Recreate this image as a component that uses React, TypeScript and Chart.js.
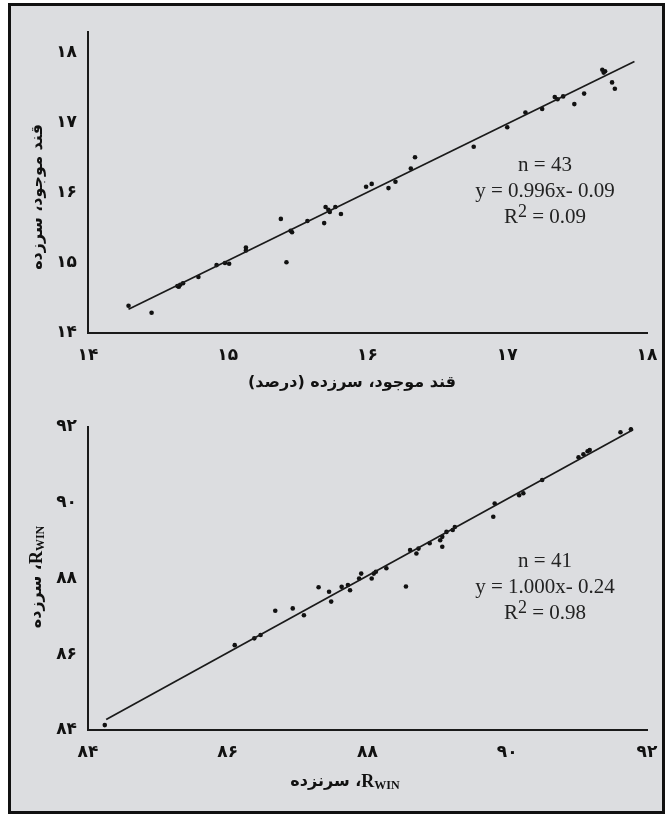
import React, { useEffect, useRef } from 'react';
import { Chart, registerables } from 'chart.js';

Chart.register(...registerables);

// ---------- Top chart data (sugar content) ----------
const topX = [14.29, 14.455, 14.64, 14.66, 14.68, 14.65, 14.79, 14.92, 14.98, 15.01, 15.13, 15.13, 15.38, 15.42, 15.45, 15.46,
  15.57, 15.70, 15.72, 15.73, 15.77, 15.69, 15.81, 15.99, 16.03, 16.15, 16.2, 16.31, 16.34, 16.76, 17.0, 17.13, 17.25,
  17.34, 17.36, 17.40, 17.48, 17.55, 17.68, 17.70, 17.69, 17.75, 17.77];
const topY = [14.39, 14.29, 14.67, 14.69, 14.71, 14.66, 14.80, 14.97, 15.00, 14.99, 15.22, 15.18, 15.63, 15.01, 15.46, 15.44,
  15.60, 15.80, 15.76, 15.73, 15.80, 15.57, 15.70, 16.09, 16.13, 16.07, 16.16, 16.35, 16.51, 16.66, 16.94, 17.15, 17.20,
  17.37, 17.34, 17.38, 17.27, 17.42, 17.76, 17.74, 17.72, 17.58, 17.49];
const topFitX = [14.29, 17.91];
const topFitY = [14.34, 17.88];
const topTickValues = [14, 15, 16, 17, 18];
const topTickLabels = ['۱۴', '۱۵', '۱۶', '۱۷', '۱۸'];
const topXTitle = 'قند موجود، سرزده (درصد)';
const topYTitle = 'قند موجود، سرزده';
const topStats = ['n = 43', 'y = 0.996x- 0.09', ' = 0.09'];

// ---------- Bottom chart data (RWIN) ----------
const bottomX = [91.62, 91.77, 91.09, 91.15, 91.18, 91.02, 90.5, 90.23, 90.17, 89.82, 89.80, 89.25, 89.22, 89.13, 89.07, 89.04,
  89.07, 88.89, 88.73, 88.61, 88.70, 88.55, 88.27, 88.12, 88.09, 88.06, 87.91, 87.88, 87.72, 87.75, 87.63, 87.30, 87.45,
  87.48, 86.68, 86.93, 87.09, 86.38, 86.47, 86.10, 84.24];
const bottomY = [91.86, 91.94, 91.28, 91.36, 91.39, 91.20, 90.6, 90.25, 90.2, 89.98, 89.63, 89.36, 89.28, 89.23, 89.10, 89.01,
  88.84, 88.93, 88.79, 88.75, 88.66, 87.79, 88.27, 88.18, 88.13, 88.0, 88.13, 88.0, 87.83, 87.69, 87.78, 87.77, 87.65,
  87.39, 87.15, 87.21, 87.03, 86.42, 86.51, 86.24, 84.13];
const bottomFitX = [84.26, 91.8];
const bottomFitY = [84.28, 91.93];
const bottomTickValues = [84, 86, 88, 90, 92];
const bottomTickLabels = ['۸۴', '۸۶', '۸۸', '۹۰', '۹۲'];
const bottomXWord = '، سرنزده';
const bottomYWord = '، سرزده';
const rwinMain = 'R';
const rwinSub = 'WIN';
const bottomStats = ['n = 41', 'y = 1.000x- 0.24', ' = 0.98'];

type Seg = { text: string; font: string; dy?: number; rtl?: boolean };
type Item = { x: number; y: number; rot?: number; segs: Seg[]; color?: string };

const PERSIAN_FONT = '"DejaVu Sans", sans-serif';
const SERIF = '"Liberation Serif", "Times New Roman", serif';

function makeTextPlugin(items: Item[]) {
  return {
    id: 'overlayText',
    afterDraw(chart: any) {
      const ctx: CanvasRenderingContext2D = chart.ctx;
      items.forEach((it) => {
        ctx.save();
        ctx.translate(it.x, it.y);
        if (it.rot) ctx.rotate(it.rot);
        ctx.fillStyle = it.color || '#111';
        ctx.textBaseline = 'middle';
        const widths = it.segs.map((s) => {
          ctx.font = s.font;
          (ctx as any).direction = s.rtl ? 'rtl' : 'ltr';
          return ctx.measureText(s.text).width;
        });
        const total = widths.reduce((a, b) => a + b, 0);
        let x = -total / 2;
        it.segs.forEach((s, i) => {
          ctx.font = s.font;
          (ctx as any).direction = s.rtl ? 'rtl' : 'ltr';
          ctx.textAlign = 'left';
          ctx.fillText(s.text, x, s.dy || 0);
          x += widths[i];
        });
        ctx.restore();
      });
    },
  };
}

function statItems(stats: string[], cx: number, y0: number): Item[] {
  const f = `21px ${SERIF}`;
  return [
    { x: cx, y: y0, segs: [{ text: stats[0], font: f }], color: '#222' },
    { x: cx, y: y0 + 26, segs: [{ text: stats[1], font: f }], color: '#222' },
    {
      x: cx, y: y0 + 52, color: '#222',
      segs: [{ text: 'R', font: f }, { text: '2', font: `18px ${SERIF}`, dy: -5 }, { text: stats[2], font: f }],
    },
  ];
}

function buildConfig(opts: {
  xs: number[]; ys: number[]; fitX: number[]; fitY: number[];
  min: number; max: number; ymax: number; step: number;
  tickValues: number[]; tickLabels: string[];
  padTop: number; xAxisH: number; items: Item[];
}) {
  const tickCb = (v: any) => {
    const i = opts.tickValues.indexOf(Number(v));
    return i >= 0 ? opts.tickLabels[i] : '';
  };
  const tickFont = { family: PERSIAN_FONT, size: 17, weight: 'bold' as const };
  return {
    type: 'scatter' as const,
    data: {
      datasets: [
        {
          type: 'line' as const,
          data: opts.fitX.map((x, i) => ({ x, y: opts.fitY[i] })),
          borderColor: '#1a1a1a', borderWidth: 1.7, pointRadius: 0, fill: false,
        },
        {
          data: opts.xs.map((x, i) => ({ x, y: opts.ys[i] })),
          pointRadius: 2.3, pointBackgroundColor: '#111', pointBorderWidth: 0, showLine: false,
        },
      ],
    },
    options: {
      animation: false, responsive: false, devicePixelRatio: 1,
      layout: { padding: { top: opts.padTop, right: 23, left: 0, bottom: 0 } },
      plugins: { legend: { display: false }, tooltip: { enabled: false } },
      scales: {
        x: {
          type: 'linear', min: opts.min, max: opts.max,
          afterFit: (s: any) => { s.height = opts.xAxisH; },
          grid: { display: false, drawTicks: false },
          border: { display: true, color: '#1a1a1a', width: 2 },
          ticks: { stepSize: opts.step, includeBounds: false, padding: 12, color: '#111', font: tickFont, callback: tickCb, maxRotation: 0, autoSkip: false },
        },
        y: {
          type: 'linear', min: opts.min, max: opts.ymax,
          afterFit: (s: any) => { s.width = 88; },
          grid: { display: false, drawTicks: false },
          border: { display: true, color: '#1a1a1a', width: 2 },
          ticks: { stepSize: opts.step, includeBounds: false, padding: 11, color: '#111', font: tickFont, callback: tickCb, autoSkip: false },
        },
      },
    },
    plugins: [makeTextPlugin(opts.items)],
  };
}

export default function App() {
  const topRef = useRef<HTMLCanvasElement>(null);
  const botRef = useRef<HTMLCanvasElement>(null);

  useEffect(() => {
    const titleFont = `bold 16px ${PERSIAN_FONT}`;
    const rFont = `bold 18px ${SERIF}`;
    const subFont = `bold 12px ${SERIF}`;

    const topItems: Item[] = [
      { x: 352, y: 383, segs: [{ text: topXTitle, font: titleFont, rtl: true }] },
      { x: 38, y: 197, rot: -Math.PI / 2, segs: [{ text: topYTitle, font: titleFont, rtl: true }] },
      ...statItems(topStats, 545, 165),
    ];
    const botItems: Item[] = [
      {
        x: 345, y: 382,
        segs: [{ text: bottomXWord, font: titleFont, rtl: true }, { text: rwinMain, font: rFont }, { text: rwinSub, font: subFont, dy: 4 }],
      },
      {
        x: 37, y: 177, rot: -Math.PI / 2,
        segs: [{ text: bottomYWord, font: titleFont, rtl: true }, { text: rwinMain, font: rFont }, { text: rwinSub, font: subFont, dy: 4 }],
      },
      ...statItems(bottomStats, 545, 161),
    ];

    const c1 = new Chart(topRef.current as HTMLCanvasElement, buildConfig({
      xs: topX, ys: topY, fitX: topFitX, fitY: topFitY, min: 14, max: 18, ymax: 18.3, step: 1,
      tickValues: topTickValues, tickLabels: topTickLabels, padTop: 32, xAxisH: 67, items: topItems,
    }) as any);
    const c2 = new Chart(botRef.current as HTMLCanvasElement, buildConfig({
      xs: bottomX, ys: bottomY, fitX: bottomFitX, fitY: bottomFitY, min: 84, max: 92, ymax: 92, step: 2,
      tickValues: bottomTickValues, tickLabels: bottomTickLabels, padTop: 27, xAxisH: 86, items: botItems,
    }) as any);
    return () => { c1.destroy(); c2.destroy(); };
  }, []);

  return (
    <div style={{ position: 'absolute', left: 0, top: 0, width: 670, height: 816, background: '#fff' }}>
      <div style={{
        position: 'absolute', left: 8, top: 3, width: 657, height: 811, boxSizing: 'border-box',
        border: '3px solid #111', background: '#dcdde0',
      }} />
      <canvas ref={topRef} width={670} height={400} style={{ position: 'absolute', left: 0, top: 0, width: 670, height: 400 }} />
      <canvas ref={botRef} width={670} height={416} style={{ position: 'absolute', left: 0, top: 400, width: 670, height: 416 }} />
    </div>
  );
}
